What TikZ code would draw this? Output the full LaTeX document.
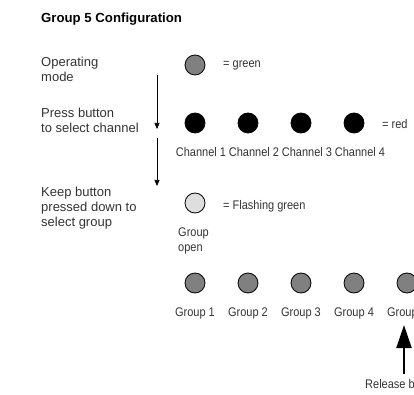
\documentclass[tikz,border=0pt]{standalone}
\usepackage{fontspec}
\setmainfont{Liberation Sans}
\newfontfamily\narrowfont{Liberation Sans}[FakeStretch=0.88]
\usetikzlibrary{arrows.meta}

\begin{document}
\begin{tikzpicture}[x=1pt, y=-1pt,
          steptext/.style={anchor=base west, inner sep=0pt, align=left,
            text=black!80, font=\fontsize{13}{15}\selectfont},
          ledlabel/.style={inner sep=0pt, text=black!80,
            font=\narrowfont\fontsize{12.5}{15}\selectfont},
          greenled/.style={circle, draw=black, fill=black!50, line width=0.8pt, minimum size=20pt, inner sep=0pt},
          redled/.style={circle, draw=black, fill=black, line width=0.8pt, minimum size=20pt, inner sep=0pt},
          flashled/.style={circle, draw=black, fill=black!13, line width=0.8pt, minimum size=20pt, inner sep=0pt},
          flow/.style={-{Triangle[width=5pt, length=6pt]}, line width=0.7pt}]

        \useasboundingbox (0,0) rectangle (414,395);
        \clip (0,0) rectangle (414,395);

        \node[anchor=base west, inner sep=0pt, font=\bfseries\fontsize{13.2}{15}\selectfont]
          (title) at (41,23) {Group 5 Configuration};

        % steps on the left (base is the last line)
        \node[steptext] (mode)  at (41,82)    {Operating\\mode};
        \node[steptext] (press) at (41,133)   {Press button\\to select channel};
        \node[steptext] (keep)  at (41,226.5) {Keep button\\pressed down to\\select group};

        \coordinate (f1a) at (157,75);
        \coordinate (f1b) at (157,129);
        \coordinate (f2a) at (157,138);
        \coordinate (f2b) at (157,186);
        \draw[flow] (f1a) -- (f1b);
        \draw[flow] (f2a) -- (f2b);

        % operating mode
        \node[greenled] (op) at (195,65) {};
        \node[ledlabel, anchor=base west] (opl) at (223,68) {= green};

        % channels
        \node[redled] (ch1) at (195,123) {};
        \node[redled] (ch2) at (248,123) {};
        \node[redled] (ch3) at (301,123) {};
        \node[redled] (ch4) at (354,123) {};
        \node[ledlabel, anchor=base west] (chl) at (382,129) {= red};

        \node[ledlabel, anchor=base] (c1) at (201,157) {Channel 1};
        \node[ledlabel, anchor=base] (c2) at (254,157) {Channel 2};
        \node[ledlabel, anchor=base] (c3) at (307,157) {Channel 3};
        \node[ledlabel, anchor=base] (c4) at (360,157) {Channel 4};

        % group open
        \node[flashled] (open) at (195,203) {};
        \node[ledlabel, anchor=base west] (openl) at (223,209) {= Flashing green};
        \node[ledlabel, anchor=base west, align=left] (opent) at (178,251) {Group\\open};

        % groups
        \node[greenled] (g1) at (195,283) {};
        \node[greenled] (g2) at (248,283) {};
        \node[greenled] (g3) at (301,283) {};
        \node[greenled] (g4) at (354,283) {};
        \node[greenled] (g5) at (407,283) {};

        \node[ledlabel, anchor=base] (gl1) at (195,316) {Group 1};
        \node[ledlabel, anchor=base] (gl2) at (248,316) {Group 2};
        \node[ledlabel, anchor=base] (gl3) at (301,316) {Group 3};
        \node[ledlabel, anchor=base] (gl4) at (354,316) {Group 4};
        \node[ledlabel, anchor=base] (gl5) at (407,316) {Group 5};

        % release
        \node[ledlabel, anchor=base west] (rel) at (365,388) {Release button};
        \coordinate (ra) at (404,374);
        \coordinate (rb) at (404,325);
        \draw[-{Triangle[width=15pt, length=23pt]}, line width=2pt] (ra) -- (rb);

      \end{tikzpicture}
\end{document}
